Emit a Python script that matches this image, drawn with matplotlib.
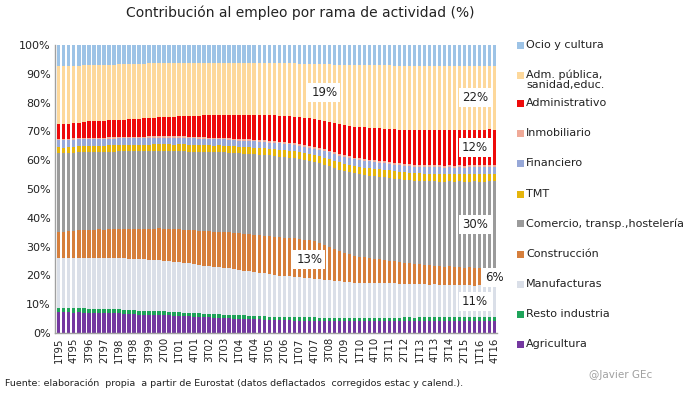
import matplotlib
matplotlib.use("Agg")
import matplotlib.pyplot as plt
import numpy as np
from matplotlib.patches import Rectangle

plt.rcParams['font.family'] = ['DejaVu Sans']

years = list(range(1995, 2017))
quarters = [f"{q}T{str(y)[2:]}" for y in years for q in range(1, 5)]
tick_labels = quarters[::3]

agricultura = [7.3, 7.2, 7.2, 7.1, 7.2, 7.1, 7.0, 7.0,
               7.0, 6.9, 6.9, 6.8, 6.8, 6.7, 6.6, 6.6,
               6.4, 6.4, 6.3, 6.3, 6.3, 6.2, 6.1, 6.0,
               5.9, 5.8, 5.8, 5.6, 5.6, 5.5, 5.4, 5.3,
               5.3, 5.2, 5.1, 5.0, 5.0, 4.9, 4.8, 4.7,
               4.7, 4.6, 4.5, 4.5, 4.5, 4.4, 4.4, 4.3,
               4.3, 4.2, 4.2, 4.2, 4.1, 4.1, 4.1, 4.1,
               4.1, 4.1, 4.0, 4.0, 4.0, 4.0, 4.1, 4.0,
               4.0, 4.0, 4.1, 4.1, 4.1, 4.2, 4.2, 4.1,
               4.2, 4.2, 4.2, 4.2, 4.2, 4.2, 4.3, 4.2,
               4.2, 4.2, 4.3, 4.2, 4.2, 4.2, 4.2, 4.1]
resto_industria = [1.5, 1.5, 1.5, 1.5, 1.5, 1.5, 1.5, 1.5,
                   1.5, 1.4, 1.4, 1.4, 1.4, 1.4, 1.4, 1.4,
                   1.4, 1.3, 1.3, 1.3, 1.3, 1.3, 1.3, 1.3,
                   1.3, 1.3, 1.2, 1.2, 1.2, 1.2, 1.2, 1.2,
                   1.2, 1.2, 1.2, 1.2, 1.2, 1.2, 1.2, 1.2,
                   1.2, 1.2, 1.2, 1.2, 1.2, 1.2, 1.2, 1.2,
                   1.2, 1.2, 1.2, 1.2, 1.2, 1.2, 1.2, 1.2,
                   1.2, 1.2, 1.2, 1.2, 1.2, 1.2, 1.2, 1.2,
                   1.2, 1.2, 1.2, 1.2, 1.2, 1.2, 1.2, 1.2,
                   1.2, 1.2, 1.2, 1.3, 1.3, 1.3, 1.3, 1.3,
                   1.3, 1.3, 1.3, 1.3, 1.3, 1.3, 1.3, 1.3]
manufacturas = [17.1, 17.2, 17.3, 17.4, 17.5, 17.6, 17.7, 17.7,
                17.8, 17.8, 17.9, 17.9, 17.9, 17.9, 17.9, 17.9,
                17.9, 17.9, 17.8, 17.8, 17.8, 17.7, 17.6, 17.5,
                17.4, 17.3, 17.2, 17.0, 16.8, 16.7, 16.6, 16.5,
                16.4, 16.3, 16.1, 15.9, 15.7, 15.5, 15.4, 15.2,
                15.0, 14.9, 14.7, 14.5, 14.3, 14.2, 14.1, 13.9,
                13.8, 13.6, 13.5, 13.4, 13.3, 13.1, 13.0, 12.8,
                12.6, 12.4, 12.3, 12.2, 12.1, 12.0, 12.0, 12.0,
                12.0, 12.0, 11.9, 11.9, 11.8, 11.8, 11.7, 11.6,
                11.6, 11.5, 11.4, 11.4, 11.3, 11.2, 11.2, 11.1,
                11.1, 11.0, 11.0, 11.0, 11.0, 10.9, 10.9, 10.9]
construccion = [9.3, 9.3, 9.4, 9.4, 9.5, 9.5, 9.6, 9.7,
                9.8, 9.9, 10.0, 10.1, 10.2, 10.3, 10.4, 10.5,
                10.6, 10.7, 10.8, 10.9, 11.0, 11.1, 11.2, 11.3,
                11.4, 11.5, 11.7, 11.8, 11.9, 12.0, 12.1, 12.2,
                12.3, 12.4, 12.5, 12.6, 12.7, 12.8, 12.9, 13.0,
                13.0, 13.1, 13.2, 13.3, 13.4, 13.4, 13.5, 13.5,
                13.4, 13.3, 13.1, 12.9, 12.6, 12.2, 11.6, 11.0,
                10.4, 10.0, 9.6, 9.3, 9.1, 8.9, 8.7, 8.5,
                8.3, 8.1, 7.9, 7.7, 7.5, 7.3, 7.1, 7.0,
                6.9, 6.8, 6.7, 6.6, 6.5, 6.4, 6.4, 6.3,
                6.3, 6.2, 6.2, 6.2, 6.1, 6.1, 6.1, 6.0]
comercio = [27.4, 27.3, 27.3, 27.2, 27.2, 27.2, 27.2, 27.2,
            27.1, 27.1, 27.0, 27.0, 27.0, 27.0, 27.0, 27.0,
            27.0, 27.0, 27.0, 27.0, 27.0, 27.0, 27.0, 27.0,
            27.0, 27.1, 27.1, 27.2, 27.3, 27.4, 27.5, 27.6,
            27.6, 27.7, 27.7, 27.8, 27.8, 27.9, 27.9, 28.0,
            28.0, 28.1, 28.1, 28.1, 28.0, 28.0, 27.9, 27.8,
            27.7, 27.6, 27.5, 27.5, 27.6, 27.7, 27.8, 27.9,
            28.0, 28.2, 28.3, 28.4, 28.5, 28.5, 28.6, 28.6,
            28.6, 28.7, 28.7, 28.7, 28.8, 28.8, 28.9, 28.9,
            29.0, 29.1, 29.2, 29.3, 29.4, 29.5, 29.6, 29.7,
            29.8, 29.8, 29.9, 30.0, 30.0, 30.1, 30.1, 30.2]
tmt = [1.9, 1.9, 1.9, 2.0, 2.0, 2.0, 2.0, 2.0,
       2.0, 2.1, 2.1, 2.1, 2.1, 2.1, 2.2, 2.2,
       2.2, 2.2, 2.3, 2.3, 2.3, 2.4, 2.4, 2.4,
       2.4, 2.4, 2.3, 2.3, 2.3, 2.3, 2.3, 2.3,
       2.3, 2.3, 2.3, 2.3, 2.3, 2.3, 2.3, 2.3,
       2.3, 2.3, 2.3, 2.3, 2.4, 2.4, 2.4, 2.4,
       2.4, 2.4, 2.4, 2.4, 2.4, 2.5, 2.5, 2.5,
       2.5, 2.5, 2.5, 2.5, 2.5, 2.5, 2.6, 2.6,
       2.6, 2.6, 2.6, 2.6, 2.6, 2.6, 2.6, 2.6,
       2.6, 2.6, 2.7, 2.7, 2.7, 2.7, 2.7, 2.7,
       2.7, 2.7, 2.7, 2.7, 2.7, 2.7, 2.7, 2.7]
financiero = [2.6, 2.6, 2.6, 2.5, 2.5, 2.5, 2.5, 2.5,
              2.5, 2.5, 2.4, 2.4, 2.4, 2.4, 2.4, 2.4,
              2.4, 2.4, 2.3, 2.3, 2.3, 2.3, 2.3, 2.3,
              2.3, 2.3, 2.3, 2.3, 2.3, 2.3, 2.2, 2.2,
              2.2, 2.2, 2.2, 2.2, 2.2, 2.2, 2.2, 2.2,
              2.2, 2.2, 2.2, 2.2, 2.2, 2.2, 2.2, 2.2,
              2.2, 2.2, 2.2, 2.2, 2.3, 2.3, 2.3, 2.3,
              2.3, 2.3, 2.3, 2.3, 2.3, 2.3, 2.3, 2.3,
              2.3, 2.3, 2.3, 2.3, 2.3, 2.2, 2.2, 2.2,
              2.2, 2.2, 2.2, 2.2, 2.2, 2.2, 2.2, 2.2,
              2.2, 2.2, 2.2, 2.2, 2.2, 2.2, 2.2, 2.2]
inmobiliario = [0.4, 0.4, 0.4, 0.4, 0.4, 0.4, 0.4, 0.4,
                0.4, 0.4, 0.4, 0.4, 0.4, 0.4, 0.4, 0.4,
                0.5, 0.5, 0.5, 0.5, 0.5, 0.5, 0.5, 0.5,
                0.5, 0.5, 0.5, 0.5, 0.5, 0.5, 0.5, 0.5,
                0.5, 0.5, 0.5, 0.5, 0.6, 0.6, 0.6, 0.6,
                0.6, 0.6, 0.6, 0.6, 0.6, 0.6, 0.6, 0.6,
                0.6, 0.6, 0.6, 0.6, 0.6, 0.6, 0.6, 0.6,
                0.6, 0.6, 0.6, 0.6, 0.6, 0.6, 0.6, 0.6,
                0.6, 0.6, 0.6, 0.6, 0.7, 0.7, 0.7, 0.7,
                0.7, 0.7, 0.7, 0.7, 0.7, 0.7, 0.7, 0.7,
                0.7, 0.7, 0.7, 0.7, 0.7, 0.7, 0.7, 0.7]
administrativo = [5.1, 5.3, 5.2, 5.3, 5.4, 5.6, 5.7, 5.8,
                  5.9, 5.9, 6.0, 6.0, 6.1, 6.1, 6.2, 6.3,
                  6.3, 6.4, 6.4, 6.5, 6.6, 6.7, 6.8, 6.9,
                  7.0, 7.1, 7.3, 7.4, 7.5, 7.6, 7.7, 7.8,
                  7.8, 7.9, 8.0, 8.1, 8.2, 8.3, 8.4, 8.5,
                  8.6, 8.7, 8.8, 8.9, 9.0, 9.1, 9.2, 9.3,
                  9.4, 9.5, 9.6, 9.7, 9.8, 9.9, 10.0, 10.1,
                  10.2, 10.4, 10.5, 10.7, 10.8, 11.0, 11.1, 11.2,
                  11.3, 11.4, 11.5, 11.6, 11.7, 11.8, 11.9, 12.0,
                  12.0, 12.1, 12.1, 12.2, 12.2, 12.3, 12.3, 12.3,
                  12.3, 12.4, 12.4, 12.4, 12.4, 12.4, 12.4, 12.4]
adm_publica = [20.1, 20.0, 20.0, 19.9, 19.8, 19.7, 19.6, 19.6,
               19.5, 19.5, 19.4, 19.4, 19.3, 19.3, 19.2, 19.1,
               19.1, 19.0, 19.0, 18.9, 18.9, 18.8, 18.8, 18.7,
               18.6, 18.5, 18.5, 18.4, 18.4, 18.3, 18.3, 18.3,
               18.2, 18.2, 18.2, 18.2, 18.2, 18.2, 18.2, 18.2,
               18.2, 18.2, 18.2, 18.2, 18.3, 18.3, 18.4, 18.5,
               18.6, 18.7, 18.8, 19.0, 19.3, 19.6, 19.9, 20.2,
               20.5, 20.8, 21.0, 21.2, 21.4, 21.5, 21.6, 21.7,
               21.8, 21.9, 22.0, 22.1, 22.2, 22.3, 22.3, 22.4,
               22.4, 22.5, 22.5, 22.5, 22.4, 22.4, 22.3, 22.3,
               22.2, 22.2, 22.2, 22.1, 22.1, 22.1, 22.0, 22.0]
ocio = [7.3, 7.3, 7.3, 7.2, 7.2, 7.1, 7.0, 7.0,
        6.9, 6.9, 6.8, 6.8, 6.7, 6.7, 6.6, 6.6,
        6.5, 6.5, 6.4, 6.4, 6.3, 6.3, 6.2, 6.2,
        6.1, 6.1, 6.1, 6.1, 6.1, 6.1, 6.1, 6.1,
        6.1, 6.1, 6.1, 6.2, 6.2, 6.2, 6.2, 6.2,
        6.2, 6.2, 6.3, 6.3, 6.3, 6.4, 6.4, 6.4,
        6.5, 6.5, 6.5, 6.6, 6.6, 6.7, 6.7, 6.8,
        6.8, 6.9, 6.9, 7.0, 7.0, 7.0, 7.1, 7.1,
        7.1, 7.1, 7.1, 7.2, 7.2, 7.2, 7.2, 7.2,
        7.2, 7.2, 7.2, 7.2, 7.3, 7.3, 7.3, 7.3,
        7.3, 7.3, 7.3, 7.3, 7.3, 7.3, 7.3, 7.3]

series_names = ["Agricultura", "Resto industria", "Manufacturas", "Construcción",
                "Comercio, transp.,hostelería", "TMT", "Financiero", "Inmobiliario",
                "Administrativo", "Adm. pública,\nsanidad,educ.", "Ocio y cultura"]
series_values = [agricultura, resto_industria, manufacturas, construccion, comercio,
                 tmt, financiero, inmobiliario, administrativo, adm_publica, ocio]
colors = ["#7438A0", "#1FA45A", "#DADFE8", "#D67F3C", "#9B9B9B", "#E5B50C",
          "#97A8D8", "#F0AA98", "#EE0A0A", "#FDD89B", "#9DC3E6"]

# data labels: (series index, quarter index, text)
data_labels = [(9, 53, "19%"), (9, 83, "22%"), (8, 83, "12%"), (4, 83, "30%"),
               (3, 50, "13%"), (3, 87, "6%"), (2, 83, "11%")]

data = np.array(series_values, dtype=float)
data = data / data.sum(axis=0) * 100.0

fig = plt.figure(figsize=(6.92, 3.95), dpi=100)
ax = fig.add_axes([55/692, 1-333/395, (497-55)/692, (333-45)/395])
x = np.arange(len(quarters))
bottom = np.zeros(len(quarters))
for vals, col, name in zip(data, colors, series_names):
    ax.bar(x, vals, bottom=bottom, width=0.68, color=col, linewidth=0, label=name)
    bottom += vals

cum = np.cumsum(data, axis=0)
for si, qi, txt in data_labels:
    lo = cum[si-1, qi] if si > 0 else 0
    yc = (lo + cum[si, qi]) / 2
    ax.text(qi, yc, txt, ha="center", va="center", fontsize=8.5, color="#222222",
            bbox=dict(boxstyle="square,pad=0.25", facecolor="white", edgecolor="none"),
            zorder=5)

ax.set_xlim(-0.75, 87.45)
ax.set_ylim(0, 100)
ax.set_yticks(range(0, 101, 10))
ax.set_yticklabels([f"{v}%" for v in range(0, 101, 10)], fontsize=8, color="#222222")
ax.set_xticks(x[::3])
ax.set_xticklabels(tick_labels, rotation=90, fontsize=7.3, color="#222222")
ax.tick_params(axis="both", length=0, pad=3)
for s in ["top", "right"]:
    ax.spines[s].set_visible(False)
for s in ["left", "bottom"]:
    ax.spines[s].set_color("#A0A0A0")
    ax.spines[s].set_linewidth(1.0)

# legend on the right
legend_y = {"Ocio y cultura": 45, "Adm. pública,\nsanidad,educ.": 75, "Administrativo": 103,
            "Inmobiliario": 133, "Financiero": 163, "TMT": 194,
            "Comercio, transp.,hostelería": 224, "Construcción": 254, "Manufacturas": 284,
            "Resto industria": 314, "Agricultura": 344}
for name, col in zip(series_names, colors):
    yp = legend_y[name]
    fig.patches.append(Rectangle((517/692, 1-(yp+3.5)/395), 7/692, 7/395,
                                 transform=fig.transFigure, facecolor=col, edgecolor="none"))
    if "\n" in name:
        fig.text(526/692, 1-(yp-6)/395, name, ha="left", va="top", fontsize=8,
                 color="#222222", linespacing=1.1)
    else:
        fig.text(526/692, 1-yp/395, name, ha="left", va="center", fontsize=8, color="#222222")

fig.text(300/692, 1-13/395, "Contribución al empleo por rama de actividad (%)",
         ha="center", va="center", fontsize=10, color="#222222")
fig.text(5/692, 1-383/395,
         "Fuente: elaboración  propia  a partir de Eurostat (datos deflactados  corregidos estac y calend.).",
         ha="left", va="center", fontsize=6.8, color="#222222")
fig.text(621/692, 1-375/395, "@Javier GEc", ha="center", va="center", fontsize=7.5, color="#A0A0A0")

fig.savefig("out.png", dpi=100)
